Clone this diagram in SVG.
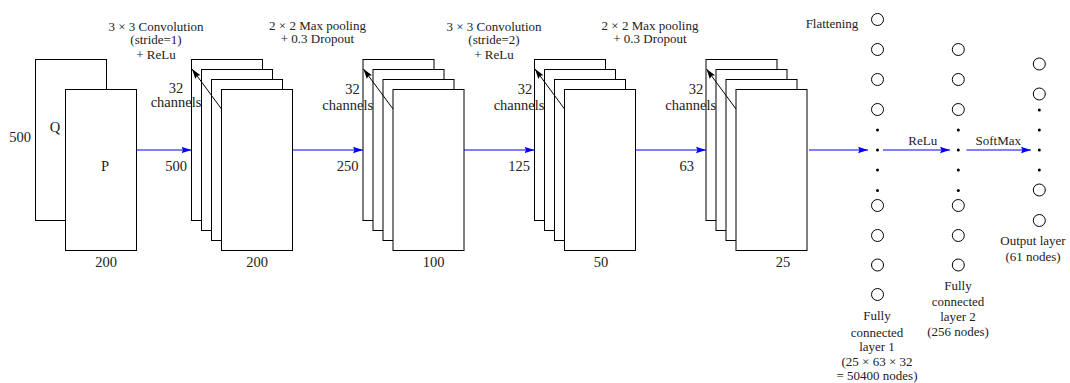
<svg xmlns="http://www.w3.org/2000/svg" width="1070" height="383" viewBox="0 0 1070 383">
<style>
text{font-family:"Liberation Serif","Times New Roman",serif;fill:#222;text-anchor:middle;dominant-baseline:central}
.s{font-size:13px}
.l{font-size:14.5px}
.fm{fill:#fff;stroke:#000;stroke-width:1}
.blue{stroke:#0000ff;stroke-width:1.2;fill:none;marker-end:url(#bh)}
.blk{stroke:#000;stroke-width:1;fill:none;marker-end:url(#kh)}
.nd{fill:#fff;stroke:#000;stroke-width:1}
.dt{fill:#000}
</style>
<defs>
<marker id="bh" markerUnits="userSpaceOnUse" markerWidth="11" markerHeight="8" refX="10" refY="4" orient="auto">
<path d="M0,0.8 L10,4 L0,7.2 L1.5,4 z" fill="#0000ff"/>
</marker>
<marker id="kh" markerUnits="userSpaceOnUse" markerWidth="11" markerHeight="8" refX="10" refY="4" orient="auto">
<path d="M0,0.8 L10,4 L0,7.2 L1.5,4 z" fill="#000"/>
</marker>
</defs>
<rect width="1070" height="383" fill="#fff"/>

<g id="input">
<rect class="fm" x="35.5" y="59.5" width="71" height="161"/>
<rect class="fm" x="65.5" y="89.5" width="71" height="161"/>
<text class="l" x="55" y="127">Q</text>
<text class="l" x="105" y="166">P</text>
<text class="l" x="20" y="137">500</text>
<text class="l" x="106" y="262">200</text>
</g>

<g id="stack1">
<rect class="fm" x="191.5" y="59.5" width="71" height="161"/>
<rect class="fm" x="201.5" y="69.5" width="71" height="161"/>
<rect class="fm" x="211.5" y="79.5" width="71" height="161"/>
<rect class="fm" x="221.5" y="89.5" width="71" height="161"/>
<text class="l" x="176" y="87.5">32</text>
<text class="l" x="176" y="102">channels</text>
<text class="l" x="176" y="166">500</text>
<text class="l" x="257" y="262">200</text>
<line class="blk" x1="221.5" y1="109" x2="192" y2="69"/>
</g>

<g id="stack2">
<rect class="fm" x="363" y="59.5" width="71" height="161"/>
<rect class="fm" x="373" y="69.5" width="71" height="161"/>
<rect class="fm" x="383" y="79.5" width="71" height="161"/>
<rect class="fm" x="393" y="89.5" width="71" height="161"/>
<text class="l" x="352.5" y="89">32</text>
<text class="l" x="347.7" y="105">channels</text>
<text class="l" x="347.7" y="166">250</text>
<text class="l" x="433.5" y="262">100</text>
<line class="blk" x1="393" y1="109" x2="363.5" y2="69"/>
</g>

<g id="stack3">
<rect class="fm" x="534.5" y="59.5" width="71" height="161"/>
<rect class="fm" x="544.5" y="69.5" width="71" height="161"/>
<rect class="fm" x="554.5" y="79.5" width="71" height="161"/>
<rect class="fm" x="564.5" y="89.5" width="71" height="161"/>
<text class="l" x="525" y="89">32</text>
<text class="l" x="519" y="105">channels</text>
<text class="l" x="519" y="166">125</text>
<text class="l" x="601" y="262">50</text>
<line class="blk" x1="564.5" y1="109" x2="535" y2="69"/>
</g>

<g id="stack4">
<rect class="fm" x="706" y="59.5" width="71" height="161"/>
<rect class="fm" x="716" y="69.5" width="71" height="161"/>
<rect class="fm" x="726" y="79.5" width="71" height="161"/>
<rect class="fm" x="736" y="89.5" width="71" height="161"/>
<text class="l" x="696" y="89">32</text>
<text class="l" x="690.7" y="105">channels</text>
<text class="l" x="686.7" y="166">63</text>
<text class="l" x="783" y="262">25</text>
<line class="blk" x1="736" y1="109" x2="706.5" y2="69"/>
</g>

<g id="op-labels">
<text class="s" x="156" y="26">3 × 3 Convolution</text>
<text class="s" x="156" y="39">(stride=1)</text>
<text class="s" x="156" y="54">+ ReLu</text>
<text class="s" x="317.5" y="25">2 × 2 Max pooling</text>
<text class="s" x="317.5" y="38">+ 0.3 Dropout</text>
<text class="s" x="494" y="26">3 × 3 Convolution</text>
<text class="s" x="494" y="39">(stride=2)</text>
<text class="s" x="494" y="54">+ ReLu</text>
<text class="s" x="650" y="25">2 × 2 Max pooling</text>
<text class="s" x="650" y="38">+ 0.3 Dropout</text>
<text class="s" x="832" y="23">Flattening</text>
<text class="s" x="922.7" y="140">ReLu</text>
<text class="s" x="998.3" y="140">SoftMax</text>
</g>

<g id="fc1">
<circle class="nd" cx="877.5" cy="19.5" r="6"/>
<circle class="nd" cx="877.5" cy="49.5" r="6"/>
<circle class="nd" cx="877.5" cy="79.5" r="6"/>
<circle class="nd" cx="877.5" cy="109.5" r="6"/>
<circle class="dt" cx="877.5" cy="130" r="1.5"/>
<circle class="dt" cx="877.5" cy="150" r="1.5"/>
<circle class="dt" cx="877.5" cy="170" r="1.5"/>
<circle class="dt" cx="877.5" cy="190.5" r="1.5"/>
<circle class="nd" cx="877.5" cy="205.5" r="6"/>
<circle class="nd" cx="877.5" cy="235.5" r="6"/>
<circle class="nd" cx="877.5" cy="265" r="6"/>
<circle class="nd" cx="877.5" cy="294.5" r="6"/>
<text class="s" x="877" y="315">Fully</text>
<text class="s" x="877" y="332">connected</text>
<text class="s" x="877" y="346.5">layer 1</text>
<text class="s" x="877" y="361">(25 × 63 × 32</text>
<text class="s" x="877" y="375">= 50400 nodes)</text>
</g>

<g id="fc2">
<circle class="nd" cx="958.3" cy="49.5" r="6"/>
<circle class="nd" cx="958.3" cy="79.5" r="6"/>
<circle class="nd" cx="958.3" cy="109.5" r="6"/>
<circle class="dt" cx="958.3" cy="130" r="1.5"/>
<circle class="dt" cx="958.3" cy="150" r="1.5"/>
<circle class="dt" cx="958.3" cy="170" r="1.5"/>
<circle class="dt" cx="958.3" cy="190.5" r="1.5"/>
<circle class="nd" cx="958.3" cy="205.5" r="6"/>
<circle class="nd" cx="958.3" cy="235.5" r="6"/>
<circle class="nd" cx="958.3" cy="265" r="6"/>
<text class="s" x="958" y="285">Fully</text>
<text class="s" x="958" y="301.7">connected</text>
<text class="s" x="958" y="316">layer 2</text>
<text class="s" x="958" y="331.7">(256 nodes)</text>
</g>

<g id="output">
<circle class="nd" cx="1039.3" cy="64" r="6"/>
<circle class="nd" cx="1039.3" cy="94" r="6"/>
<circle class="dt" cx="1039.3" cy="110" r="1.5"/>
<circle class="dt" cx="1039.3" cy="130" r="1.5"/>
<circle class="dt" cx="1039.3" cy="150" r="1.5"/>
<circle class="dt" cx="1039.3" cy="170" r="1.5"/>
<circle class="nd" cx="1039.3" cy="190" r="6"/>
<circle class="nd" cx="1039.3" cy="220.5" r="6"/>
<text class="s" x="1033" y="240">Output layer</text>
<text class="s" x="1033" y="256">(61 nodes)</text>
</g>

<g id="connectors">
<line class="blue" x1="136.5" y1="150" x2="191.5" y2="150"/>
<line class="blue" x1="292.5" y1="150" x2="363" y2="150"/>
<line class="blue" x1="464" y1="150" x2="534.5" y2="150"/>
<line class="blue" x1="635.5" y1="150" x2="706" y2="150"/>
<line class="blue" x1="809" y1="150" x2="868" y2="150"/>
<line class="blue" x1="883" y1="150" x2="950" y2="150"/>
<line class="blue" x1="966.5" y1="150" x2="1031" y2="150"/>
</g>
</svg>
